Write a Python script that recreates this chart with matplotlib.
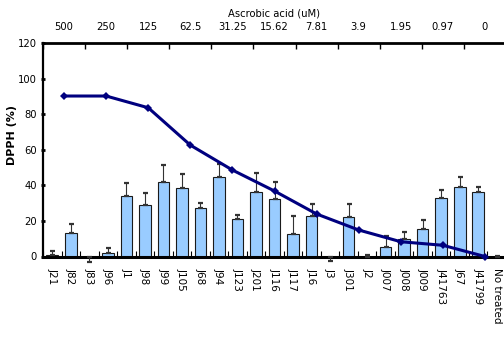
import matplotlib
matplotlib.use("Agg")
import matplotlib.pyplot as plt
import numpy as np

plt.rcParams['font.family'] = ['Liberation Sans Narrow', 'DejaVu Sans']

# Extract samples (bars)
samples = ["J21", "J82", "J83", "J96", "J1", "J98", "J99", "J105", "J68", "J94",
           "J123", "J201", "J116", "J117", "J16", "J3", "J301", "J2", "J007",
           "J008", "J009", "J41763", "J67", "J41799", "No treated"]
scavenging = [1.0, 13.4, 0.0, 1.8, 34.0, 28.8, 42.0, 38.3, 27.4, 44.8,
              20.9, 36.2, 32.3, 12.6, 22.9, 0.0, 22.0, 0.0, 5.5,
              9.8, 15.6, 33.0, 39.0, 36.2, 0.0]
err_up = [2.0, 4.7, 0.0, 3.2, 7.5, 6.7, 9.4, 7.9, 2.8, 7.0,
          2.4, 11.0, 9.4, 10.0, 6.4, 0.0, 7.3, 1.0, 6.0,
          4.0, 5.0, 4.4, 5.8, 2.8, 0.5]
err_down = [0, 0, 3.0, 0, 0, 0, 0, 0, 0, 0,
            0, 0, 0, 0, 0, 2.5, 0, 0, 0,
            0, 0, 0, 0, 0, 0]

# Ascorbic acid standard (line, top axis)
ascorbic_labels = ["500", "250", "125", "62.5", "31.25", "15.62", "7.81",
                   "3.9", "1.95", "0.97", "0"]
ascorbic_dpph = [90.2, 90.2, 83.6, 62.6, 48.6, 36.8, 23.9, 14.9, 8.3, 6.3, 0.0]

W, H = 504, 343
fig = plt.figure(figsize=(W / 100, H / 100), dpi=100)
left, right, top, bottom = 43, 506, 43, 256.5
ax = fig.add_axes([left / W, 1 - bottom / H, (right - left) / W, (bottom - top) / H])

x = np.arange(len(samples))
ax.bar(x, scavenging, width=0.63, color="#99CCFF", edgecolor="#1a1a1a",
       linewidth=0.8, zorder=2)
ax.errorbar(x, scavenging, yerr=[err_down, err_up], fmt="none", ecolor="#333333",
            elinewidth=0.8, capsize=1.8, capthick=1.6, zorder=3, clip_on=False)

ax.set_xlim(-0.5, len(samples) - 0.5)
ax.set_ylim(0, 120)
ax.set_yticks(np.arange(0, 121, 20))
ax.tick_params(axis="y", direction="inout", length=3, width=2, pad=3)
for lbl in ax.get_yticklabels():
    lbl.set_fontsize(8)
    lbl.set_fontstretch("condensed")
ax.set_xticks(x)
ax.set_xticklabels(samples, rotation=270, fontsize=7.5, family=["DejaVu Sans"],
                   va="top", ha="center")
ax.tick_params(axis="x", length=0, pad=8)
ax.set_xticks(np.arange(-0.5, len(samples), 1), minor=True)
ax.tick_params(axis="x", which="minor", direction="in", length=4, width=0.8)
for side in ("right", "top"):
    ax.spines[side].set_visible(False)
ax.spines["left"].set_linewidth(1.6)
ax.spines["bottom"].set_linewidth(2.2)
ax.set_ylabel("DPPH (%)", fontsize=8, fontweight="bold", family=["DejaVu Sans"])
ax.yaxis.set_label_coords(-0.056, 0.57)

# Second x axis on top for the ascorbic acid concentrations
ax2 = ax.twiny()
ax2.set_xlim(-0.5, len(ascorbic_labels) - 0.5)
ax2.set_ylim(0, 120)
xa = np.arange(len(ascorbic_labels))
ax2.plot(xa, ascorbic_dpph, color="#00007F", linewidth=2.2, marker="D",
         markersize=4.5, markeredgewidth=0, zorder=4, clip_on=False)
ax2.set_xticks(xa)
ax2.set_xticklabels(ascorbic_labels)
for lbl in ax2.get_xticklabels():
    lbl.set_fontsize(8)
    lbl.set_fontstretch("condensed")
ax2.tick_params(axis="x", length=0, pad=8)
ax2.set_xticks(np.arange(-0.5, len(ascorbic_labels), 1), minor=True)
ax2.tick_params(axis="x", which="minor", direction="in", length=4, width=1)
ax2.spines["top"].set_linewidth(2)
for side in ("right", "left", "bottom"):
    ax2.spines[side].set_visible(False)
ax2.set_xlabel("Ascrobic acid (uM)", fontsize=8, fontstretch="condensed", labelpad=4)

fig.savefig("out.png", dpi=100)
